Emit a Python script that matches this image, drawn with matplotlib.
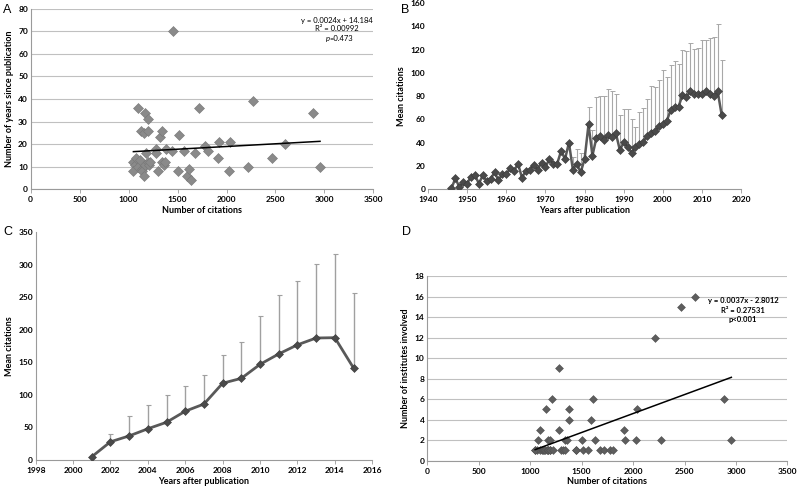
import numpy as np
import matplotlib.pyplot as plt

plt.rcParams['font.family'] = ['Lato', 'DejaVu Sans']

# --- data ---
citations = [1049, 1062, 1049, 1076, 1093, 1100, 1117, 1130, 1137, 1141,
             1158, 1161, 1170, 1171, 1175, 1195, 1195, 1198, 1209, 1222,
             1277, 1279, 1304, 1320, 1338, 1338, 1362, 1376, 1382, 1443,
             1450, 1507, 1515, 1566, 1593, 1613, 1634, 1679, 1716, 1780,
             1808, 1910, 1923, 2026, 2035, 2218, 2267, 2465, 2601, 2887,
             2955]
years_since = [12, 11, 8, 14, 36, 10, 13, 26, 9, 8,
               25, 6, 34, 11, 16, 31, 26, 12, 11, 12,
               18, 16, 8, 23, 26, 12, 11, 12, 18, 17,
               70, 8, 24, 17, 6, 9, 4, 16, 36, 19,
               17, 14, 21, 8, 21, 10, 39, 14, 20, 34,
               10]
institutes = [1, 1, 1, 2, 1, 3, 1, 1, 1, 1,
              5, 1, 2, 1, 1, 2, 1, 1, 6, 1,
              9, 3, 1, 1, 2, 1, 2, 5, 4, 1,
              1, 2, 1, 1, 4, 6, 2, 1, 1, 1,
              1, 3, 2, 2, 5, 12, 2, 15, 16, 6,
              2]
fit_a = (0.0024, 14.184)
fit_d = (0.0037, -2.8012)

b_years = list(range(1946, 2016))
b_mean = [1, 9.4, 2, 6, 5, 11, 12, 5, 12, 7,
          9, 14.5, 8, 13, 13, 18, 16, 22, 10, 16,
          17, 21, 17, 23, 19, 26, 22, 22, 33, 26,
          40, 17, 22, 14.5, 26, 55.7, 29, 44, 46, 42,
          47, 45, 48, 33.7, 40.5, 36.5, 31.4, 36.5, 39, 41,
          46, 48, 50, 54, 56.5, 59, 68, 71, 71, 81,
          79, 84.5, 82, 82, 82, 84, 82, 80, 84, 64]
# top of the error bar (nan = no bar)
b_upper = [np.nan] * 31 + [28, 35, 31, np.nan,
           71, 51, 79, 80.5, 80, 86, 84.5, 82, 64, 69,
           69, 60.5, 53.5, 66, 70, 77.5, 89, 88, 93.5, 102.5,
           96.5, 107, 110, 107.5, 119.5, 119, 125.5, 120.5, 121.5, 128.5,
           128, 130, 131, 142, 111]

c_years = list(range(2001, 2016))
c_mean = [5, 28, 37, 48, 58, 75, 86, 118, 125.5, 147, 163, 177, 187.5, 188, 141.5]
c_upper = [np.nan, 39.5, 67, 85, 100, 114, 130, 162, 182, 221, 253, 275, 301, 317, 257]

grid_col = '#c0c0c0'
axis_col = '#9a9a9a'
tick_kw = dict(labelsize=6, length=3, width=0.6, color=axis_col, pad=2)


def style_axes(ax, grid=True, left=True):
    for s in ('top', 'right'):
        ax.spines[s].set_visible(False)
    ax.spines['bottom'].set_color(axis_col)
    ax.spines['left'].set_color(axis_col)
    ax.spines['left'].set_visible(left)
    ax.tick_params(axis='both', **tick_kw)
    ax.tick_params(axis='y', length=0)
    for lab in ax.get_xticklabels() + ax.get_yticklabels():
        lab.set_fontweight('bold')
    if grid:
        ax.yaxis.grid(True, color=grid_col, lw=0.8)
        ax.set_axisbelow(True)


fig = plt.figure(figsize=(7.97, 4.88), dpi=100)

# A
axA = fig.add_axes([0.0385, 0.612, 0.430, 0.370])
axA.scatter(citations, years_since, marker='D', s=26, color='#8a8a8a',
            edgecolors='#777777', linewidths=0.4, zorder=3)
xs = np.array([min(citations), max(citations)])
axA.plot(xs, fit_a[0] * xs + fit_a[1], color='black', lw=1.1, zorder=4)
axA.set_xlim(0, 3500)
axA.set_ylim(0, 80)
axA.set_xticks(range(0, 3501, 500))
axA.set_yticks(range(0, 81, 10))
style_axes(axA)
axA.set_xlabel('Number of citations', fontsize=6.5, fontweight='bold', labelpad=2)
axA.set_ylabel('Number of years since publication', fontsize=6.5, fontweight='bold', labelpad=3)
axA.text(3128, 75, 'y = 0.0024x + 14.184', fontsize=5.5, ha='center', va='center')
axA.text(3128, 71.1, 'R² = 0.00992', fontsize=5.5, ha='center', va='center')
axA.text(3055, 66.9, 'p', fontsize=5.5, ha='right', va='center', style='italic')
axA.text(3055, 66.9, '=0.473', fontsize=5.5, ha='left', va='center')

# B
axB = fig.add_axes([0.537, 0.612, 0.393, 0.382])
bm = np.array(b_mean)
bu = np.array(b_upper)
has = ~np.isnan(bu)
axB.errorbar(np.array(b_years)[has], bm[has],
             yerr=[np.zeros(has.sum()), (bu - bm)[has]],
             fmt='none', ecolor='#a8a8a8', elinewidth=0.8, capsize=1.8,
             capthick=0.7, zorder=2)
axB.plot(b_years, b_mean, color='#595959', lw=1.8, marker='D', ms=3.8,
         mfc='#4a4a4a', mec='#3a3a3a', mew=0.4, zorder=3)
axB.set_xlim(1940, 2020)
axB.set_ylim(0, 160)
axB.set_xticks(range(1940, 2021, 10))
axB.set_yticks(range(0, 161, 20))
style_axes(axB, grid=False, left=False)
axB.set_xlabel('Years after publication', fontsize=6.5, fontweight='bold', labelpad=2)
axB.set_ylabel('Mean citations', fontsize=6.5, fontweight='bold', labelpad=3)

# C
axC = fig.add_axes([0.0448, 0.0574, 0.4222, 0.4666])
cm = np.array(c_mean)
cu = np.array(c_upper)
has = ~np.isnan(cu)
axC.errorbar(np.array(c_years)[has], cm[has],
             yerr=[np.zeros(has.sum()), (cu - cm)[has]],
             fmt='none', ecolor='#a0a0a0', elinewidth=1.0, capsize=1.8,
             capthick=0.8, zorder=2)
axC.plot(c_years, c_mean, color='#595959', lw=2.0, marker='D', ms=4.2,
         mfc='#4a4a4a', mec='#3a3a3a', mew=0.4, zorder=3)
axC.set_xlim(1998, 2016)
axC.set_ylim(0, 350)
axC.set_xticks(range(1998, 2017, 2))
axC.set_yticks(range(0, 351, 50))
style_axes(axC, grid=False)
axC.set_xlabel('Years after publication', fontsize=6.5, fontweight='bold', labelpad=2)
axC.set_ylabel('Mean citations', fontsize=6.5, fontweight='bold', labelpad=3)

# D
axD = fig.add_axes([0.536, 0.056, 0.452, 0.378])
axD.scatter(citations, institutes, marker='D', s=16, color='#5e5e5e',
            edgecolors='#505050', linewidths=0.4, zorder=3)
axD.plot(xs, fit_d[0] * xs + fit_d[1], color='black', lw=1.1, zorder=4)
axD.set_xlim(0, 3500)
axD.set_ylim(0, 18)
axD.set_xticks(range(0, 3501, 500))
axD.set_yticks(range(0, 19, 2))
style_axes(axD)
axD.set_xlabel('Number of citations', fontsize=6.5, fontweight='bold', labelpad=2)
axD.set_ylabel('Number of institutes involved', fontsize=6.5, fontweight='bold', labelpad=3)
axD.text(3069, 15.6, 'y = 0.0037x - 2.8012', fontsize=5.5, fontweight='bold', ha='center', va='center')
axD.text(3069, 14.7, 'R² = 0.27531', fontsize=5.5, fontweight='bold', ha='center', va='center')
axD.text(3069, 13.8, 'p<0.001', fontsize=5.5, fontweight='bold', ha='center', va='center')

# panel letters
for lab, (px, py) in zip('ABCD', [(3, 10), (401, 10), (3, 232), (402, 232)]):
    fig.text(px / 797, 1 - py / 488, lab, fontsize=9, ha='left', va='center',
             family=['Liberation Sans', 'DejaVu Sans'])

fig.savefig('out.png', dpi=100)
